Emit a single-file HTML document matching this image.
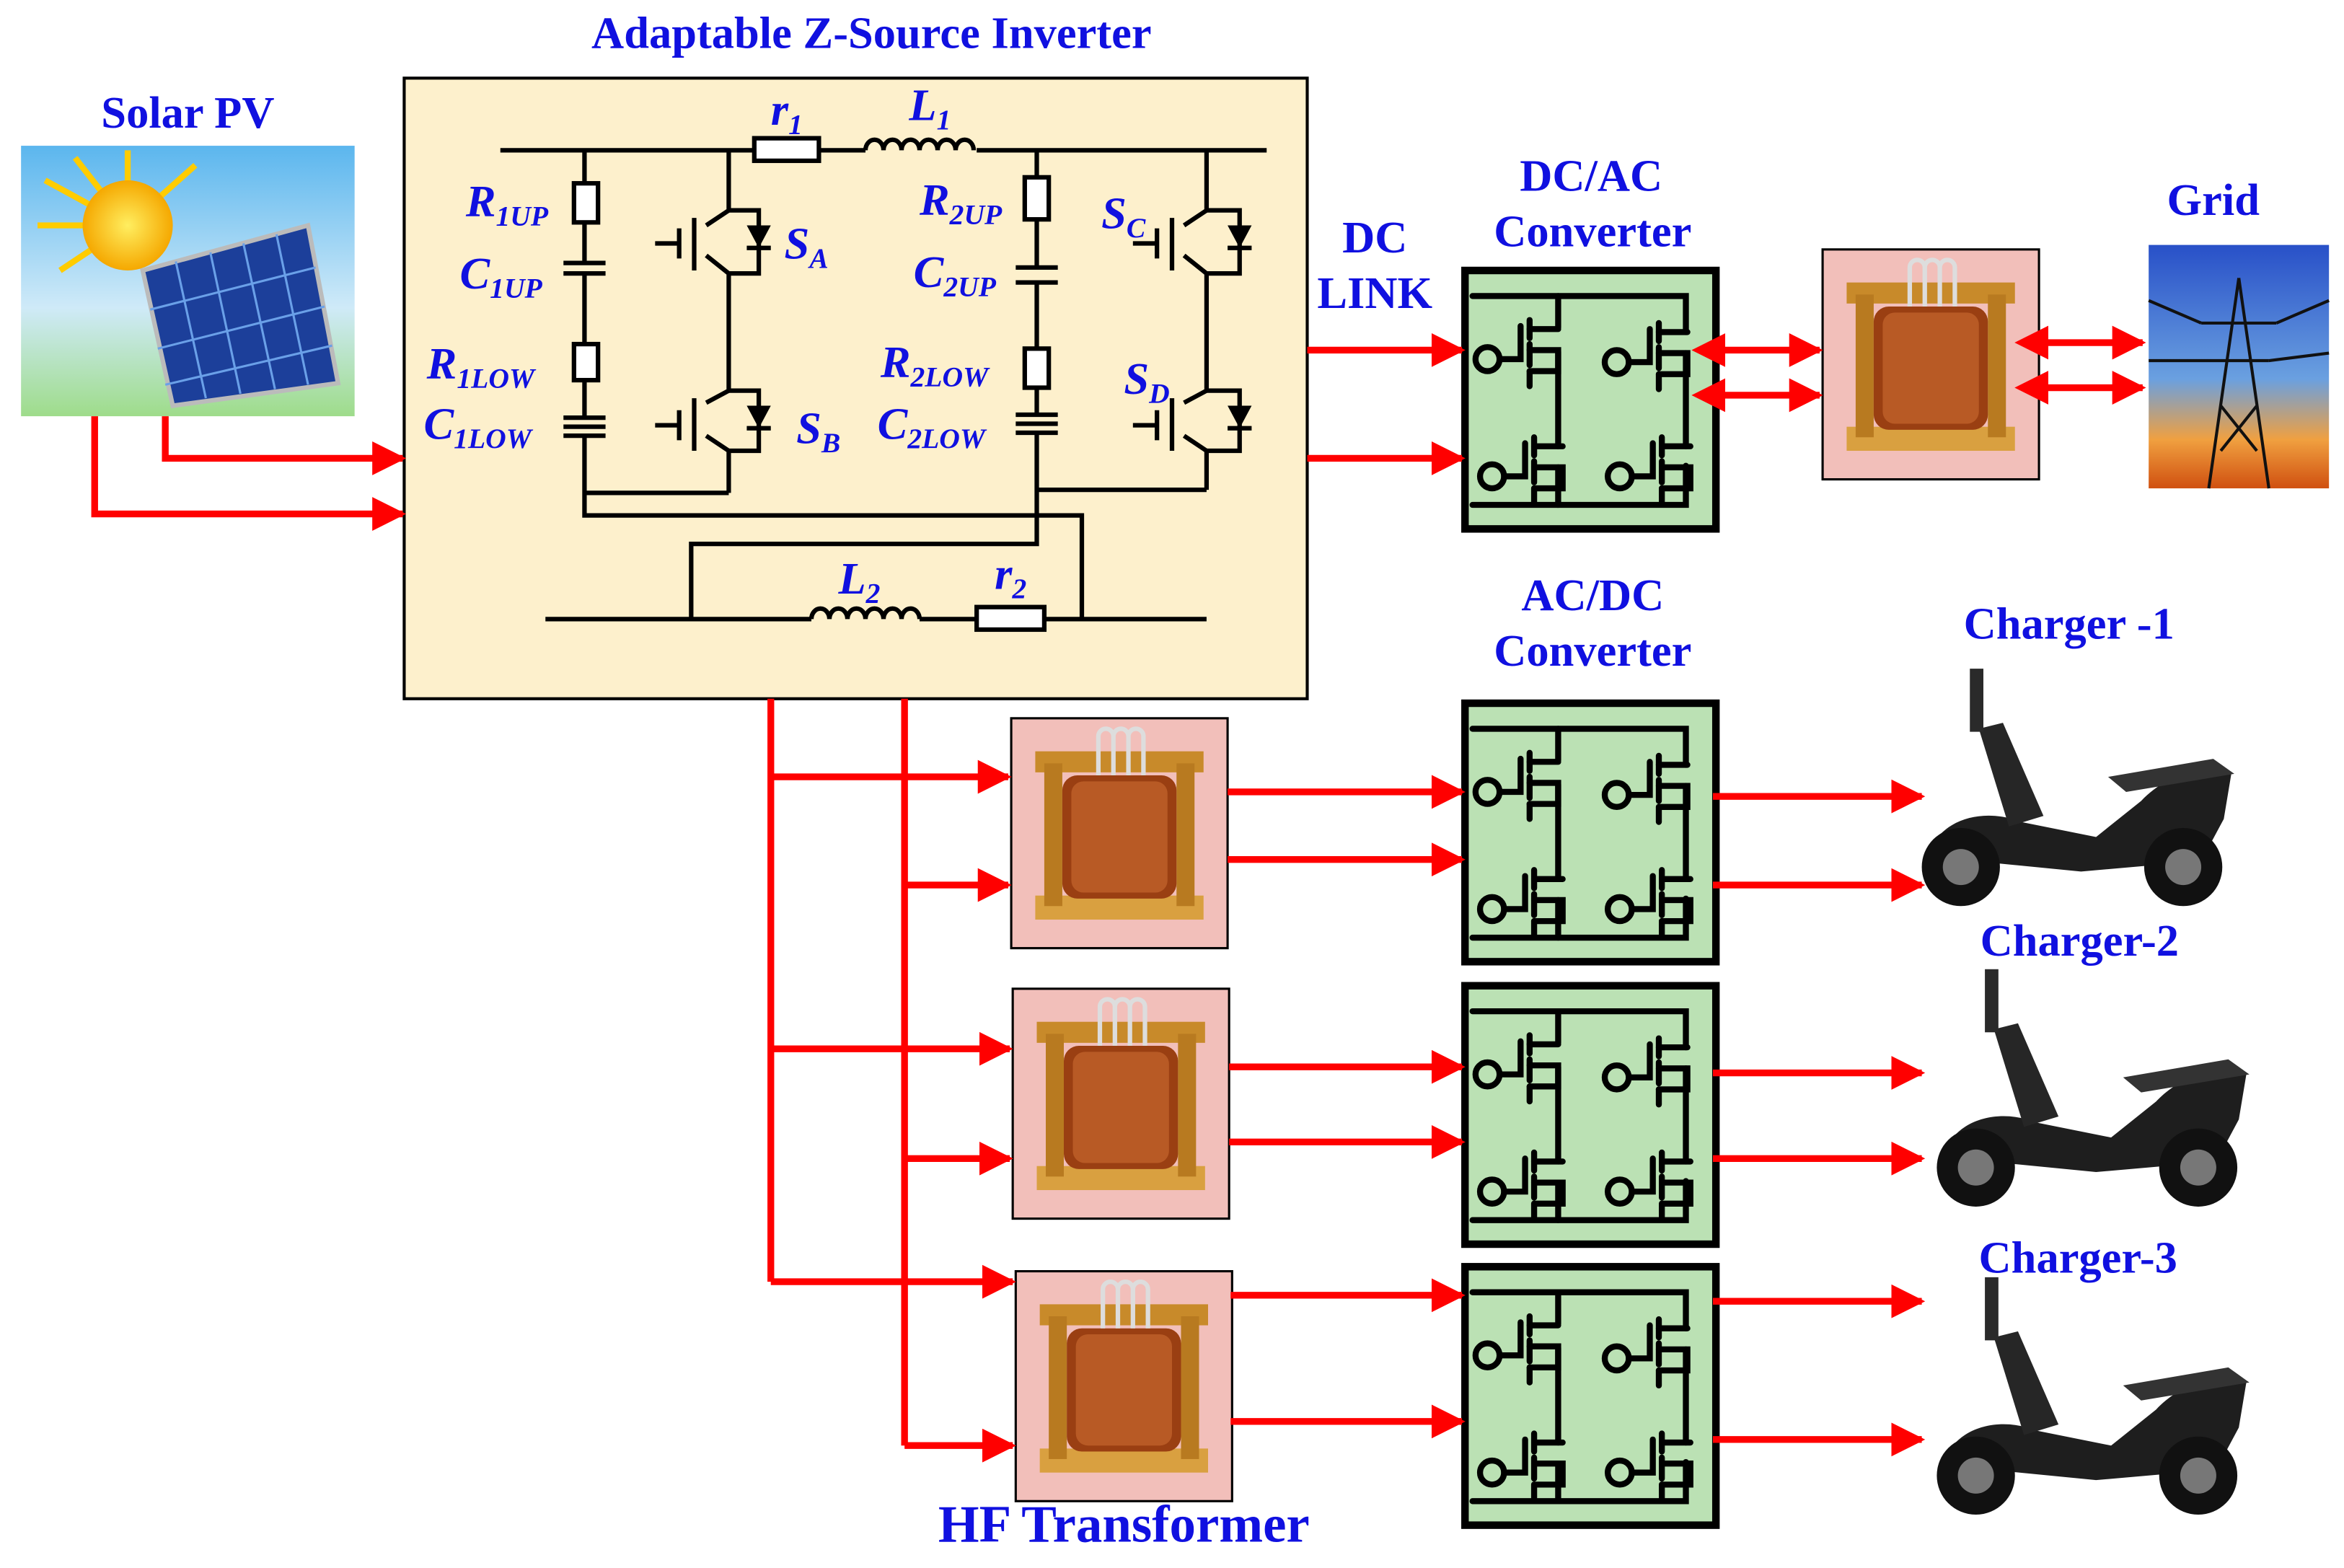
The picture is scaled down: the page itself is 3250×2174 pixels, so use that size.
<!DOCTYPE html>
<html><head><meta charset="utf-8"><style>
html,body{margin:0;padding:0;background:#fff}
svg{display:block}
text{font-family:"Liberation Serif",serif;font-weight:bold;fill:#1010e0}
.ci{font-style:italic;font-size:30px}
</style></head><body>
<svg width="3250" height="2174" viewBox="0 0 1560 1043.5" preserveAspectRatio="none" xmlns="http://www.w3.org/2000/svg">
<defs>
<marker id="ah" viewBox="0 0 10 10" refX="9" refY="5" markerWidth="5" markerHeight="5" orient="auto" markerUnits="strokeWidth"><path d="M0,0 L10,5 L0,10 z" fill="#f00"/></marker>
<marker id="ahs" viewBox="0 0 10 10" refX="1" refY="5" markerWidth="5" markerHeight="5" orient="auto-start-reverse" markerUnits="strokeWidth"><path d="M0,0 L10,5 L0,10 z" fill="#f00"/></marker>
<g id="mos" fill="none" stroke="#000" stroke-width="4" stroke-linecap="round">
  <circle cx="0" cy="0" r="8"/>
  <path d="M8,0 H22 V-22"/>
  <path d="M28,-26 V-14 M28,-10 V4 M28,8 V18"/>
  <path d="M28,-20 H47 M28,-6 H47 V8 H28"/>
</g>
<g id="conv">
  <rect x="0" y="0" width="167" height="172" fill="#bbe1b4" stroke="#000" stroke-width="5"/>
  <g fill="none" stroke="#000" stroke-width="4" stroke-linecap="round">
    <path d="M5,17 H147 V41"/>
    <path d="M62,17 V38"/>
    <path d="M62,54 V117"/>
    <path d="M147,55 V117"/>
    <path d="M5,156 H147 V130"/>
    <path d="M62,131 V156"/>
  </g>
  <use href="#mos" x="15" y="59"/>
  <use href="#mos" x="101" y="61"/>
  <use href="#mos" x="18" y="137"/>
  <use href="#mos" x="103" y="137"/>
</g>
<g id="xf">
  <rect x="0" y="0" width="144" height="153" fill="#f2bfba" stroke="#000" stroke-width="1.5"/>
  <rect x="16" y="22" width="112" height="14" fill="#c88a2a"/>
  <rect x="16" y="118" width="112" height="16" fill="#d9a040"/>
  <rect x="22" y="30" width="12" height="95" fill="#b87a20"/>
  <rect x="110" y="30" width="12" height="95" fill="#b87a20"/>
  <rect x="34" y="38" width="76" height="82" rx="10" fill="#9a3f12"/>
  <rect x="40" y="42" width="64" height="74" rx="8" fill="#b85a25"/>
  <path d="M58,38 V12 a5,5 0 0 1 10,0 V38 M68,38 V12 a5,5 0 0 1 10,0 V38 M78,38 V12 a5,5 0 0 1 10,0 V38" fill="none" stroke="#ddd" stroke-width="3"/>
</g>
<g id="bike">
  <path d="M8,125 C15,100 45,92 70,102 L120,112 L150,88 C165,72 190,62 210,70 L205,100 L190,128 L110,135 Z" fill="#1e1e1e"/>
  <path d="M62,105 L42,40 L58,36 L85,98 Z" fill="#262626"/>
  <rect x="36" y="0" width="9" height="42" fill="#2a2a2a"/>
  <path d="M128,72 L198,60 L212,70 L140,82 Z" fill="#333"/>
  <circle cx="30" cy="132" r="26" fill="#111"/><circle cx="30" cy="132" r="12" fill="#777"/>
  <circle cx="178" cy="132" r="26" fill="#111"/><circle cx="178" cy="132" r="12" fill="#777"/>
</g>
<linearGradient id="sky" x1="0" y1="0" x2="0" y2="1"><stop offset="0" stop-color="#5bb6ee"/><stop offset="0.6" stop-color="#cfeaf8"/><stop offset="1" stop-color="#9edc8a"/></linearGradient>
<linearGradient id="sunset" x1="0" y1="0" x2="0" y2="1"><stop offset="0" stop-color="#2850c8"/><stop offset="0.55" stop-color="#6aa0e0"/><stop offset="0.8" stop-color="#f0a040"/><stop offset="1" stop-color="#d05010"/></linearGradient>
<radialGradient id="sun"><stop offset="0" stop-color="#ffee60"/><stop offset="1" stop-color="#f5a800"/></radialGradient>
</defs>

<text x="580" y="32" font-size="30" text-anchor="middle">Adaptable Z-Source Inverter</text>
<text x="125" y="85" font-size="30" text-anchor="middle">Solar PV</text>
<text x="915" y="168" font-size="30" text-anchor="middle">DC</text>
<text x="915" y="205" font-size="30" text-anchor="middle">LINK</text>
<text x="1059" y="127" font-size="30" text-anchor="middle">DC/AC</text>
<text x="1060" y="164" font-size="30" text-anchor="middle">Converter</text>
<text x="1473" y="143" font-size="30" text-anchor="middle">Grid</text>
<text x="1060" y="406" font-size="30" text-anchor="middle">AC/DC</text>
<text x="1060" y="443" font-size="30" text-anchor="middle">Converter</text>
<text x="1377" y="425" font-size="30" text-anchor="middle">Charger -1</text>
<text x="1384" y="636" font-size="30" text-anchor="middle">Charger-2</text>
<text x="1383" y="847" font-size="30" text-anchor="middle">Charger-3</text>
<text x="748" y="1026" font-size="35" text-anchor="middle">HF Transformer</text>

<rect x="14" y="97" width="222" height="180" fill="url(#sky)"/>
<g stroke="#ffcc00" stroke-width="4">
<path d="M85,150 L30,120 M85,150 L40,180 M85,150 L85,100 M85,150 L130,110 M85,150 L50,105 M85,150 L25,150"/>
</g>
<circle cx="85" cy="150" r="30" fill="url(#sun)"/>
<path d="M95,180 L205,150 L225,255 L115,270 Z" fill="#1c3f9a" stroke="#bbb" stroke-width="3"/>
<g stroke="#6aa0e8" stroke-width="1.5">
<path d="M117,174 L137,265 M140,168 L160,262 M162,162 L183,259 M184,156 L205,256"/>
<path d="M100,206 L210,178 M105,232 L216,204 M110,256 L221,230"/>
</g>

<rect x="1430" y="163" width="120" height="162" fill="url(#sunset)"/>
<g stroke="#111" stroke-width="2" fill="none">
<path d="M1490,185 L1470,325 M1490,185 L1510,325 M1465,215 H1515 M1470,240 H1510 M1478,270 L1502,300 M1502,270 L1478,300"/>
<path d="M1430,200 L1465,215 M1515,215 L1550,200 M1430,240 L1470,240 M1510,240 L1550,235"/>
</g>

<rect x="269" y="52" width="601" height="413" fill="#fdf0cc" stroke="#000" stroke-width="2"/>
<g fill="none" stroke="#000" stroke-width="3">
  <path d="M333,100 H502 M545,100 H576 M650,100 H843"/>
  <rect x="502" y="92" width="43" height="15" fill="#fff"/>
  <path d="M576,100 a6,7 0 0 1 12,0 a6,7 0 0 1 12,0 a6,7 0 0 1 12,0 a6,7 0 0 1 12,0 a6,7 0 0 1 12,0 a6,7 0 0 1 12,0"/>
  <path d="M389,100 V122 M389,148 V175 M389,182 V229 M389,253 V278 M389,290 V343 H720 V412"/>
  <rect x="382" y="122" width="16" height="26" fill="#fff"/>
  <path d="M375,175 H403 M375,182 H403"/>
  <rect x="382" y="229" width="16" height="24" fill="#fff"/>
  <path d="M375,278 H403 M375,284 H403 M375,290 H403"/>
  <path d="M389,328 H485"/>
  <path d="M485,100 V140 L470,150 M470,170 L485,182 V260 L470,268 M470,290 L485,300 V328"/>
  <path d="M462,145 V180 M452,162 H436 M452,152 V172 M462,265 V300 M452,283 H436 M452,273 V293"/>
  <path d="M485,140 H505 V182 H485 M485,260 H505 V300 H485"/>
  <path d="M690,100 V118 M690,146 V178 M690,188 V232 M690,258 V276 M690,288 V362 H460 V412"/>
  <rect x="682" y="118" width="16" height="28" fill="#fff"/>
  <path d="M676,178 H704 M676,188 H704"/>
  <rect x="682" y="232" width="16" height="26" fill="#fff"/>
  <path d="M676,276 H704 M676,282 H704 M676,288 H704"/>
  <path d="M690,326 H803"/>
  <path d="M803,100 V140 L788,150 M788,170 L803,182 V210 L803,260 L788,268 M788,290 L803,300 V326"/>
  <path d="M780,145 V180 M770,162 H754 M770,152 V172 M780,265 V300 M770,283 H754 M770,273 V293"/>
  <path d="M803,140 H825 V182 H803 M803,260 H825 V300 H803"/>
  <path d="M363,412 H540 M612,412 H650 M695,412 H803"/>
  <path d="M540,412 a6,7 0 0 1 12,0 a6,7 0 0 1 12,0 a6,7 0 0 1 12,0 a6,7 0 0 1 12,0 a6,7 0 0 1 12,0 a6,7 0 0 1 12,0"/>
  <rect x="650" y="404" width="45" height="15" fill="#fff"/>
</g>
<g fill="#000">
  <path d="M497,150 L513,150 L505,165 Z M497,270 L513,270 L505,285 Z M817,150 L833,150 L825,165 Z M817,270 L833,270 L825,285 Z"/>
  <path d="M497,165 H513 M497,285 H513" stroke="#000" stroke-width="3"/>
  <path d="M817,165 H833 M817,285 H833" stroke="#000" stroke-width="3"/>
</g>
<text class="ci" x="513" y="83">r<tspan font-size="19" dy="6">1</tspan></text>
<text class="ci" x="605" y="80">L<tspan font-size="19" dy="6">1</tspan></text>
<text class="ci" x="310" y="144">R<tspan font-size="19" dy="6">1UP</tspan></text>
<text class="ci" x="306" y="192">C<tspan font-size="19" dy="6">1UP</tspan></text>
<text class="ci" x="284" y="252">R<tspan font-size="19" dy="6">1LOW</tspan></text>
<text class="ci" x="282" y="292">C<tspan font-size="19" dy="6">1LOW</tspan></text>
<text class="ci" x="522" y="172">S<tspan font-size="19" dy="6">A</tspan></text>
<text class="ci" x="530" y="295">S<tspan font-size="19" dy="6">B</tspan></text>
<text class="ci" x="612" y="143">R<tspan font-size="19" dy="6">2UP</tspan></text>
<text class="ci" x="608" y="191">C<tspan font-size="19" dy="6">2UP</tspan></text>
<text class="ci" x="586" y="251">R<tspan font-size="19" dy="6">2LOW</tspan></text>
<text class="ci" x="584" y="292">C<tspan font-size="19" dy="6">2LOW</tspan></text>
<text class="ci" x="733" y="152">S<tspan font-size="19" dy="6">C</tspan></text>
<text class="ci" x="748" y="262">S<tspan font-size="19" dy="6">D</tspan></text>
<text class="ci" x="558" y="395">L<tspan font-size="19" dy="6">2</tspan></text>
<text class="ci" x="662" y="392">r<tspan font-size="19" dy="6">2</tspan></text>

<use href="#conv" x="975" y="180"/>
<use href="#conv" x="975" y="468"/>
<use href="#conv" x="975" y="656"/>
<use href="#conv" x="975" y="843"/>
<use href="#xf" x="1213" y="166"/>
<use href="#xf" x="673" y="478"/>
<use href="#xf" x="674" y="658"/>
<use href="#xf" x="676" y="846"/>
<use href="#bike" x="1275" y="445"/>
<use href="#bike" x="1285" y="645"/>
<use href="#bike" x="1285" y="850"/>

<g stroke="#f00" stroke-width="4.5" fill="none">
  <path d="M63,277 V342 H268" marker-end="url(#ah)"/>
  <path d="M110,277 V305 H268" marker-end="url(#ah)"/>
  <path d="M870,233 H973" marker-end="url(#ah)"/>
  <path d="M870,305 H973" marker-end="url(#ah)"/>
  <path d="M1146,233 H1211" marker-end="url(#ah)" marker-start="url(#ahs)"/>
  <path d="M1146,263 H1211" marker-end="url(#ah)" marker-start="url(#ahs)"/>
  <path d="M1361,228 H1426" marker-end="url(#ah)" marker-start="url(#ahs)"/>
  <path d="M1361,258 H1426" marker-end="url(#ah)" marker-start="url(#ahs)"/>
  <path d="M513,465 V853"/>
  <path d="M602,465 V962"/>
  <path d="M513,517 H671" marker-end="url(#ah)"/>
  <path d="M602,589 H671" marker-end="url(#ah)"/>
  <path d="M513,698 H672" marker-end="url(#ah)"/>
  <path d="M602,771 H672" marker-end="url(#ah)"/>
  <path d="M513,853 H674" marker-end="url(#ah)"/>
  <path d="M602,962 H674" marker-end="url(#ah)"/>
  <path d="M817,527 H973" marker-end="url(#ah)"/>
  <path d="M817,572 H973" marker-end="url(#ah)"/>
  <path d="M818,710 H973" marker-end="url(#ah)"/>
  <path d="M818,760 H973" marker-end="url(#ah)"/>
  <path d="M819,862 H973" marker-end="url(#ah)"/>
  <path d="M819,946 H973" marker-end="url(#ah)"/>
  <path d="M1140,530 H1279" marker-end="url(#ah)"/>
  <path d="M1140,589 H1279" marker-end="url(#ah)"/>
  <path d="M1140,714 H1279" marker-end="url(#ah)"/>
  <path d="M1140,771 H1279" marker-end="url(#ah)"/>
  <path d="M1140,866 H1279" marker-end="url(#ah)"/>
  <path d="M1140,958 H1279" marker-end="url(#ah)"/>
</g>
</svg>
</body></html>
